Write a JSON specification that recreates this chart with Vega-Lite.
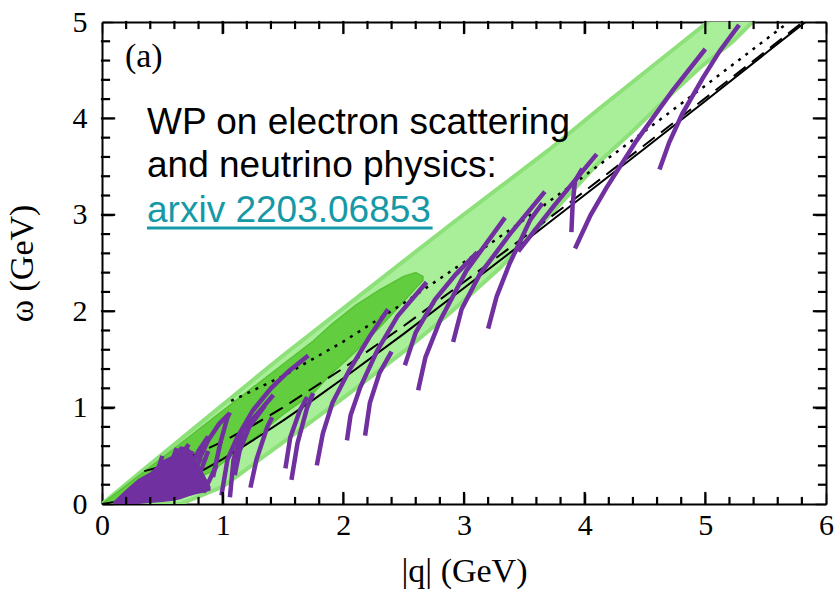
{
  "$schema": "https://vega.github.io/schema/vega-lite/v6.json",
  "width": 724,
  "height": 482,
  "autosize": {"type": "none"},
  "padding": {"left": 102, "top": 22, "right": 11, "bottom": 95},
  "background": "white",
  "config": {"view": {"stroke": null}, "axis": {"grid": false, "zindex": 1}},
  "datasets": {
    "light": [
      {"q": 0, "hi": 0, "lo": 0},
      {"q": 0.3, "hi": 0.31, "lo": 0},
      {"q": 0.65, "hi": 0.67, "lo": 0},
      {"q": 1.0, "hi": 1.03, "lo": 0.18},
      {"q": 1.5, "hi": 1.54, "lo": 0.64},
      {"q": 2.0, "hi": 2.03, "lo": 1.1},
      {"q": 2.5, "hi": 2.52, "lo": 1.58},
      {"q": 2.9, "hi": 2.91, "lo": 2.0},
      {"q": 3.3, "hi": 3.29, "lo": 2.45},
      {"q": 3.7, "hi": 3.67, "lo": 2.98},
      {"q": 4.13, "hi": 4.11, "lo": 3.56},
      {"q": 4.4, "hi": 4.38, "lo": 3.87},
      {"q": 4.68, "hi": 4.66, "lo": 4.21},
      {"q": 4.95, "hi": 4.93, "lo": 4.52},
      {"q": 5.23, "hi": 5.21, "lo": 4.8},
      {"q": 5.39, "hi": 5.37, "lo": 5.0},
      {"q": 5.6, "hi": 5.58, "lo": 5.2}
    ],
    "dark": [
      {"q": 0, "hi": 0, "lo": 0},
      {"q": 0.5, "hi": 0.48, "lo": 0.11},
      {"q": 0.9, "hi": 0.87, "lo": 0.33},
      {"q": 1.2, "hi": 1.16, "lo": 0.62},
      {"q": 1.5, "hi": 1.45, "lo": 0.93},
      {"q": 1.75, "hi": 1.69, "lo": 1.15},
      {"q": 1.9, "hi": 1.86, "lo": 1.35},
      {"q": 2.1, "hi": 2.06, "lo": 1.58},
      {"q": 2.3, "hi": 2.22, "lo": 1.83},
      {"q": 2.5, "hi": 2.36, "lo": 2.1},
      {"q": 2.6, "hi": 2.4, "lo": 2.24},
      {"q": 2.66, "hi": 2.36, "lo": 2.32}
    ],
    "blob": [
      {"q": 0.09, "hi": 0.02, "lo": 0},
      {"q": 0.2, "hi": 0.15, "lo": 0},
      {"q": 0.3, "hi": 0.26, "lo": 0},
      {"q": 0.4, "hi": 0.33, "lo": 0.01},
      {"q": 0.5, "hi": 0.45, "lo": 0.02},
      {"q": 0.58, "hi": 0.5, "lo": 0.03},
      {"q": 0.65, "hi": 0.6, "lo": 0.05},
      {"q": 0.72, "hi": 0.58, "lo": 0.08},
      {"q": 0.78, "hi": 0.46, "lo": 0.1},
      {"q": 0.85, "hi": 0.3, "lo": 0.12},
      {"q": 0.9, "hi": 0.18, "lo": 0.14}
    ],
    "purple": [
      {"id": 1, "i": 0, "q": 0.92, "w": 0.28}, {"id": 1, "i": 1, "q": 0.98, "w": 0.63}, {"id": 1, "i": 2, "q": 1.04, "w": 0.9}, {"id": 1, "i": 3, "q": 1.06, "w": 0.95},
      {"id": 2, "i": 0, "q": 0.99, "w": 0.09}, {"id": 2, "i": 1, "q": 1.04, "w": 0.46}, {"id": 2, "i": 2, "q": 1.12, "w": 0.69}, {"id": 2, "i": 3, "q": 1.25, "w": 0.97}, {"id": 2, "i": 4, "q": 1.4, "w": 1.2}, {"id": 2, "i": 5, "q": 1.55, "w": 1.38}, {"id": 2, "i": 6, "q": 1.71, "w": 1.54},
      {"id": 3, "i": 0, "q": 1.06, "w": 0.07}, {"id": 3, "i": 1, "q": 1.09, "w": 0.46}, {"id": 3, "i": 2, "q": 1.17, "w": 0.77}, {"id": 3, "i": 3, "q": 1.29, "w": 0.94}, {"id": 3, "i": 4, "q": 1.42, "w": 1.13},
      {"id": 4, "i": 0, "q": 1.23, "w": 0.17}, {"id": 4, "i": 1, "q": 1.28, "w": 0.46}, {"id": 4, "i": 2, "q": 1.37, "w": 0.8}, {"id": 4, "i": 3, "q": 1.41, "w": 0.9},
      {"id": 5, "i": 0, "q": 1.52, "w": 0.37}, {"id": 5, "i": 1, "q": 1.56, "w": 0.69}, {"id": 5, "i": 2, "q": 1.64, "w": 0.97}, {"id": 5, "i": 3, "q": 1.7, "w": 1.11},
      {"id": 6, "i": 0, "q": 1.57, "w": 0.25}, {"id": 6, "i": 1, "q": 1.62, "w": 0.63}, {"id": 6, "i": 2, "q": 1.7, "w": 1.0}, {"id": 6, "i": 3, "q": 1.75, "w": 1.15},
      {"id": 7, "i": 0, "q": 1.78, "w": 0.4}, {"id": 7, "i": 1, "q": 1.83, "w": 0.73}, {"id": 7, "i": 2, "q": 1.91, "w": 1.05}, {"id": 7, "i": 3, "q": 2.05, "w": 1.39}, {"id": 7, "i": 4, "q": 2.22, "w": 1.74}, {"id": 7, "i": 5, "q": 2.37, "w": 2.02},
      {"id": 8, "i": 0, "q": 2.03, "w": 0.66}, {"id": 8, "i": 1, "q": 2.06, "w": 0.92}, {"id": 8, "i": 2, "q": 2.14, "w": 1.21}, {"id": 8, "i": 3, "q": 2.28, "w": 1.59}, {"id": 8, "i": 4, "q": 2.45, "w": 1.95}, {"id": 8, "i": 5, "q": 2.69, "w": 2.3},
      {"id": 9, "i": 0, "q": 2.18, "w": 0.71}, {"id": 9, "i": 1, "q": 2.22, "w": 1.05}, {"id": 9, "i": 2, "q": 2.3, "w": 1.36}, {"id": 9, "i": 3, "q": 2.4, "w": 1.58},
      {"id": 10, "i": 0, "q": 2.51, "w": 1.44}, {"id": 10, "i": 1, "q": 2.6, "w": 1.78}, {"id": 10, "i": 2, "q": 2.76, "w": 2.12}, {"id": 10, "i": 3, "q": 2.93, "w": 2.38}, {"id": 10, "i": 4, "q": 3.11, "w": 2.61},
      {"id": 11, "i": 0, "q": 2.62, "w": 1.18}, {"id": 11, "i": 1, "q": 2.68, "w": 1.52}, {"id": 11, "i": 2, "q": 2.8, "w": 1.9}, {"id": 11, "i": 3, "q": 3.02, "w": 2.42}, {"id": 11, "i": 4, "q": 3.34, "w": 2.97},
      {"id": 12, "i": 0, "q": 2.91, "w": 1.68}, {"id": 12, "i": 1, "q": 2.98, "w": 2.02}, {"id": 12, "i": 2, "q": 3.13, "w": 2.38}, {"id": 12, "i": 3, "q": 3.38, "w": 2.8}, {"id": 12, "i": 4, "q": 3.67, "w": 3.24},
      {"id": 13, "i": 0, "q": 3.2, "w": 1.82}, {"id": 13, "i": 1, "q": 3.27, "w": 2.15}, {"id": 13, "i": 2, "q": 3.38, "w": 2.5}, {"id": 13, "i": 3, "q": 3.55, "w": 2.95}, {"id": 13, "i": 4, "q": 3.65, "w": 3.12},
      {"id": 14, "i": 0, "q": 3.45, "w": 2.62}, {"id": 14, "i": 1, "q": 3.75, "w": 3.1}, {"id": 14, "i": 2, "q": 4.1, "w": 3.63},
      {"id": 15, "i": 0, "q": 3.89, "w": 2.82}, {"id": 15, "i": 1, "q": 3.9, "w": 3.1}, {"id": 15, "i": 2, "q": 3.92, "w": 3.35}, {"id": 15, "i": 3, "q": 3.98, "w": 3.48},
      {"id": 16, "i": 0, "q": 3.92, "w": 2.65}, {"id": 16, "i": 1, "q": 4.05, "w": 3.0}, {"id": 16, "i": 2, "q": 4.18, "w": 3.28}, {"id": 16, "i": 3, "q": 4.43, "w": 3.77}, {"id": 16, "i": 4, "q": 4.73, "w": 4.29}, {"id": 16, "i": 5, "q": 5.0, "w": 4.72},
      {"id": 17, "i": 0, "q": 4.62, "w": 3.47}, {"id": 17, "i": 1, "q": 4.7, "w": 3.75}, {"id": 17, "i": 2, "q": 4.81, "w": 4.05}, {"id": 17, "i": 3, "q": 4.98, "w": 4.42}, {"id": 17, "i": 4, "q": 5.12, "w": 4.7}, {"id": 17, "i": 5, "q": 5.28, "w": 4.97},
      {"id": 18, "i": 0, "q": 0.8, "w": 0.45}, {"id": 18, "i": 1, "q": 0.88, "w": 0.66}, {"id": 18, "i": 2, "q": 0.97, "w": 0.83}, {"id": 18, "i": 3, "q": 1.05, "w": 0.93},
      {"id": 19, "i": 0, "q": 0.72, "w": 0.35}, {"id": 19, "i": 1, "q": 0.8, "w": 0.55}, {"id": 19, "i": 2, "q": 0.88, "w": 0.7},
      {"id": 20, "i": 0, "q": 1.1, "w": 0.3}, {"id": 20, "i": 1, "q": 1.14, "w": 0.55}, {"id": 20, "i": 2, "q": 1.22, "w": 0.8}, {"id": 20, "i": 3, "q": 1.35, "w": 1.02},
      {"id": 21, "i": 0, "q": 0.55, "w": 0.35}, {"id": 21, "i": 1, "q": 0.62, "w": 0.58},
      {"id": 22, "i": 0, "q": 0.66, "w": 0.3}, {"id": 22, "i": 1, "q": 0.75, "w": 0.55},
      {"id": 23, "i": 0, "q": 0.72, "w": 0.22}, {"id": 23, "i": 1, "q": 0.82, "w": 0.48},
      {"id": 24, "i": 0, "q": 0.8, "w": 0.28}, {"id": 24, "i": 1, "q": 0.88, "w": 0.55},
      {"id": 25, "i": 0, "q": 0.62, "w": 0.45}, {"id": 25, "i": 1, "q": 0.72, "w": 0.62},
      {"id": 26, "i": 0, "q": 0.45, "w": 0.3}, {"id": 26, "i": 1, "q": 0.5, "w": 0.5},
      {"id": 27, "i": 0, "q": 0.84, "w": 0.12}, {"id": 27, "i": 1, "q": 0.95, "w": 0.4}
    ],
    "solid": [
      {"q": 0, "w": 0}, {"q": 0.25, "w": 0.05}, {"q": 0.5, "w": 0.15}, {"q": 0.75, "w": 0.29}, {"q": 1.0, "w": 0.465}, {"q": 1.25, "w": 0.66}, {"q": 1.5, "w": 0.865}, {"q": 1.75, "w": 1.08}, {"q": 2.0, "w": 1.305}, {"q": 2.5, "w": 1.765}, {"q": 3.0, "w": 2.24}, {"q": 3.5, "w": 2.72}, {"q": 4.0, "w": 3.205}, {"q": 4.5, "w": 3.69}, {"q": 5.0, "w": 4.18}, {"q": 5.5, "w": 4.675}, {"q": 5.84, "w": 5.01}
    ],
    "dashed": [
      {"q": 0.35, "w": 0.341}, {"q": 0.5, "w": 0.39}, {"q": 0.75, "w": 0.502}, {"q": 1.0, "w": 0.647}, {"q": 1.25, "w": 0.815}, {"q": 1.5, "w": 1.001}, {"q": 2.0, "w": 1.409}, {"q": 2.5, "w": 1.847}, {"q": 3.0, "w": 2.303}, {"q": 3.5, "w": 2.771}, {"q": 4.0, "w": 3.245}, {"q": 4.5, "w": 3.726}, {"q": 5.0, "w": 4.21}, {"q": 5.5, "w": 4.696}, {"q": 5.85, "w": 5.04}
    ],
    "dotted": [
      {"q": 1.07, "w": 1.069}, {"q": 1.5, "w": 1.327}, {"q": 2.0, "w": 1.685}, {"q": 2.5, "w": 2.083}, {"q": 3.0, "w": 2.508}, {"q": 3.5, "w": 2.951}, {"q": 4.0, "w": 3.406}, {"q": 4.5, "w": 3.87}, {"q": 5.0, "w": 4.341}, {"q": 5.5, "w": 4.817}, {"q": 5.75, "w": 5.056}
    ],
    "tk": [
      {"k": 1, "q": 0.2, "w": 0}, {"k": 1, "q": 0.2, "w": 0.062}, {"k": 2, "q": 0.4, "w": 0}, {"k": 2, "q": 0.4, "w": 0.062}, {"k": 3, "q": 0.6, "w": 0}, {"k": 3, "q": 0.6, "w": 0.062}, {"k": 4, "q": 0.8, "w": 0}, {"k": 4, "q": 0.8, "w": 0.062}, {"k": 5, "q": 1, "w": 0}, {"k": 5, "q": 1, "w": 0.114},
      {"k": 6, "q": 1.2, "w": 0}, {"k": 6, "q": 1.2, "w": 0.062}, {"k": 7, "q": 1.4, "w": 0}, {"k": 7, "q": 1.4, "w": 0.062}, {"k": 8, "q": 1.6, "w": 0}, {"k": 8, "q": 1.6, "w": 0.062}, {"k": 9, "q": 1.8, "w": 0}, {"k": 9, "q": 1.8, "w": 0.062}, {"k": 10, "q": 2, "w": 0}, {"k": 10, "q": 2, "w": 0.114},
      {"k": 11, "q": 2.2, "w": 0}, {"k": 11, "q": 2.2, "w": 0.062}, {"k": 12, "q": 2.4, "w": 0}, {"k": 12, "q": 2.4, "w": 0.062}, {"k": 13, "q": 2.6, "w": 0}, {"k": 13, "q": 2.6, "w": 0.062}, {"k": 14, "q": 2.8, "w": 0}, {"k": 14, "q": 2.8, "w": 0.062}, {"k": 15, "q": 3, "w": 0}, {"k": 15, "q": 3, "w": 0.114},
      {"k": 16, "q": 3.2, "w": 0}, {"k": 16, "q": 3.2, "w": 0.062}, {"k": 17, "q": 3.4, "w": 0}, {"k": 17, "q": 3.4, "w": 0.062}, {"k": 18, "q": 3.6, "w": 0}, {"k": 18, "q": 3.6, "w": 0.062}, {"k": 19, "q": 3.8, "w": 0}, {"k": 19, "q": 3.8, "w": 0.062}, {"k": 20, "q": 4, "w": 0}, {"k": 20, "q": 4, "w": 0.114},
      {"k": 21, "q": 4.2, "w": 0}, {"k": 21, "q": 4.2, "w": 0.062}, {"k": 22, "q": 4.4, "w": 0}, {"k": 22, "q": 4.4, "w": 0.062}, {"k": 23, "q": 4.6, "w": 0}, {"k": 23, "q": 4.6, "w": 0.062}, {"k": 24, "q": 4.8, "w": 0}, {"k": 24, "q": 4.8, "w": 0.062}, {"k": 25, "q": 5, "w": 0}, {"k": 25, "q": 5, "w": 0.114},
      {"k": 26, "q": 5.2, "w": 0}, {"k": 26, "q": 5.2, "w": 0.062}, {"k": 27, "q": 5.4, "w": 0}, {"k": 27, "q": 5.4, "w": 0.062}, {"k": 28, "q": 5.6, "w": 0}, {"k": 28, "q": 5.6, "w": 0.062}, {"k": 29, "q": 5.8, "w": 0}, {"k": 29, "q": 5.8, "w": 0.062},
      {"k": 31, "q": 0.2, "w": 5}, {"k": 31, "q": 0.2, "w": 4.938}, {"k": 32, "q": 0.4, "w": 5}, {"k": 32, "q": 0.4, "w": 4.938}, {"k": 33, "q": 0.6, "w": 5}, {"k": 33, "q": 0.6, "w": 4.938}, {"k": 34, "q": 0.8, "w": 5}, {"k": 34, "q": 0.8, "w": 4.938}, {"k": 35, "q": 1, "w": 5}, {"k": 35, "q": 1, "w": 4.886},
      {"k": 36, "q": 1.2, "w": 5}, {"k": 36, "q": 1.2, "w": 4.938}, {"k": 37, "q": 1.4, "w": 5}, {"k": 37, "q": 1.4, "w": 4.938}, {"k": 38, "q": 1.6, "w": 5}, {"k": 38, "q": 1.6, "w": 4.938}, {"k": 39, "q": 1.8, "w": 5}, {"k": 39, "q": 1.8, "w": 4.938}, {"k": 40, "q": 2, "w": 5}, {"k": 40, "q": 2, "w": 4.886},
      {"k": 41, "q": 2.2, "w": 5}, {"k": 41, "q": 2.2, "w": 4.938}, {"k": 42, "q": 2.4, "w": 5}, {"k": 42, "q": 2.4, "w": 4.938}, {"k": 43, "q": 2.6, "w": 5}, {"k": 43, "q": 2.6, "w": 4.938}, {"k": 44, "q": 2.8, "w": 5}, {"k": 44, "q": 2.8, "w": 4.938}, {"k": 45, "q": 3, "w": 5}, {"k": 45, "q": 3, "w": 4.886},
      {"k": 46, "q": 3.2, "w": 5}, {"k": 46, "q": 3.2, "w": 4.938}, {"k": 47, "q": 3.4, "w": 5}, {"k": 47, "q": 3.4, "w": 4.938}, {"k": 48, "q": 3.6, "w": 5}, {"k": 48, "q": 3.6, "w": 4.938}, {"k": 49, "q": 3.8, "w": 5}, {"k": 49, "q": 3.8, "w": 4.938}, {"k": 50, "q": 4, "w": 5}, {"k": 50, "q": 4, "w": 4.886},
      {"k": 51, "q": 4.2, "w": 5}, {"k": 51, "q": 4.2, "w": 4.938}, {"k": 52, "q": 4.4, "w": 5}, {"k": 52, "q": 4.4, "w": 4.938}, {"k": 53, "q": 4.6, "w": 5}, {"k": 53, "q": 4.6, "w": 4.938}, {"k": 54, "q": 4.8, "w": 5}, {"k": 54, "q": 4.8, "w": 4.938}, {"k": 55, "q": 5, "w": 5}, {"k": 55, "q": 5, "w": 4.886},
      {"k": 56, "q": 5.2, "w": 5}, {"k": 56, "q": 5.2, "w": 4.938}, {"k": 57, "q": 5.4, "w": 5}, {"k": 57, "q": 5.4, "w": 4.938}, {"k": 58, "q": 5.6, "w": 5}, {"k": 58, "q": 5.6, "w": 4.938}, {"k": 59, "q": 5.8, "w": 5}, {"k": 59, "q": 5.8, "w": 4.938},
      {"k": 61, "q": 0, "w": 0.2}, {"k": 61, "q": 0.058, "w": 0.2}, {"k": 62, "q": 0, "w": 0.4}, {"k": 62, "q": 0.058, "w": 0.4}, {"k": 63, "q": 0, "w": 0.6}, {"k": 63, "q": 0.058, "w": 0.6}, {"k": 64, "q": 0, "w": 0.8}, {"k": 64, "q": 0.058, "w": 0.8}, {"k": 65, "q": 0, "w": 1}, {"k": 65, "q": 0.1, "w": 1},
      {"k": 66, "q": 0, "w": 1.2}, {"k": 66, "q": 0.058, "w": 1.2}, {"k": 67, "q": 0, "w": 1.4}, {"k": 67, "q": 0.058, "w": 1.4}, {"k": 68, "q": 0, "w": 1.6}, {"k": 68, "q": 0.058, "w": 1.6}, {"k": 69, "q": 0, "w": 1.8}, {"k": 69, "q": 0.058, "w": 1.8}, {"k": 70, "q": 0, "w": 2}, {"k": 70, "q": 0.1, "w": 2},
      {"k": 71, "q": 0, "w": 2.2}, {"k": 71, "q": 0.058, "w": 2.2}, {"k": 72, "q": 0, "w": 2.4}, {"k": 72, "q": 0.058, "w": 2.4}, {"k": 73, "q": 0, "w": 2.6}, {"k": 73, "q": 0.058, "w": 2.6}, {"k": 74, "q": 0, "w": 2.8}, {"k": 74, "q": 0.058, "w": 2.8}, {"k": 75, "q": 0, "w": 3}, {"k": 75, "q": 0.1, "w": 3},
      {"k": 76, "q": 0, "w": 3.2}, {"k": 76, "q": 0.058, "w": 3.2}, {"k": 77, "q": 0, "w": 3.4}, {"k": 77, "q": 0.058, "w": 3.4}, {"k": 78, "q": 0, "w": 3.6}, {"k": 78, "q": 0.058, "w": 3.6}, {"k": 79, "q": 0, "w": 3.8}, {"k": 79, "q": 0.058, "w": 3.8}, {"k": 80, "q": 0, "w": 4}, {"k": 80, "q": 0.1, "w": 4},
      {"k": 81, "q": 0, "w": 4.2}, {"k": 81, "q": 0.058, "w": 4.2}, {"k": 82, "q": 0, "w": 4.4}, {"k": 82, "q": 0.058, "w": 4.4}, {"k": 83, "q": 0, "w": 4.6}, {"k": 83, "q": 0.058, "w": 4.6}, {"k": 84, "q": 0, "w": 4.8}, {"k": 84, "q": 0.058, "w": 4.8},
      {"k": 91, "q": 6, "w": 0.2}, {"k": 91, "q": 5.942, "w": 0.2}, {"k": 92, "q": 6, "w": 0.4}, {"k": 92, "q": 5.942, "w": 0.4}, {"k": 93, "q": 6, "w": 0.6}, {"k": 93, "q": 5.942, "w": 0.6}, {"k": 94, "q": 6, "w": 0.8}, {"k": 94, "q": 5.942, "w": 0.8}, {"k": 95, "q": 6, "w": 1}, {"k": 95, "q": 5.9, "w": 1},
      {"k": 96, "q": 6, "w": 1.2}, {"k": 96, "q": 5.942, "w": 1.2}, {"k": 97, "q": 6, "w": 1.4}, {"k": 97, "q": 5.942, "w": 1.4}, {"k": 98, "q": 6, "w": 1.6}, {"k": 98, "q": 5.942, "w": 1.6}, {"k": 99, "q": 6, "w": 1.8}, {"k": 99, "q": 5.942, "w": 1.8}, {"k": 100, "q": 6, "w": 2}, {"k": 100, "q": 5.9, "w": 2},
      {"k": 101, "q": 6, "w": 2.2}, {"k": 101, "q": 5.942, "w": 2.2}, {"k": 102, "q": 6, "w": 2.4}, {"k": 102, "q": 5.942, "w": 2.4}, {"k": 103, "q": 6, "w": 2.6}, {"k": 103, "q": 5.942, "w": 2.6}, {"k": 104, "q": 6, "w": 2.8}, {"k": 104, "q": 5.942, "w": 2.8}, {"k": 105, "q": 6, "w": 3}, {"k": 105, "q": 5.9, "w": 3},
      {"k": 106, "q": 6, "w": 3.2}, {"k": 106, "q": 5.942, "w": 3.2}, {"k": 107, "q": 6, "w": 3.4}, {"k": 107, "q": 5.942, "w": 3.4}, {"k": 108, "q": 6, "w": 3.6}, {"k": 108, "q": 5.942, "w": 3.6}, {"k": 109, "q": 6, "w": 3.8}, {"k": 109, "q": 5.942, "w": 3.8}, {"k": 110, "q": 6, "w": 4}, {"k": 110, "q": 5.9, "w": 4},
      {"k": 111, "q": 6, "w": 4.2}, {"k": 111, "q": 5.942, "w": 4.2}, {"k": 112, "q": 6, "w": 4.4}, {"k": 112, "q": 5.942, "w": 4.4}, {"k": 113, "q": 6, "w": 4.6}, {"k": 113, "q": 5.942, "w": 4.6}, {"k": 114, "q": 6, "w": 4.8}, {"k": 114, "q": 5.942, "w": 4.8}
    ],
    "notes": [
      {"q": 0.373, "w": 3.837, "t": "WP on electron scattering", "c": "#000000"},
      {"q": 0.373, "w": 3.388, "t": "and neutrino physics:", "c": "#000000"},
      {"q": 0.373, "w": 2.922, "t": "arxiv 2203.06853", "c": "#1699a6"}
    ],
    "panel": [{"q": 0.19, "w": 4.53, "t": "(a)"}],
    "underline": [{"q": 0.373, "q2": 2.74, "w": 2.862}]
  },
  "layer": [
    {
      "data": {"name": "light"},
      "mark": {"type": "area", "fill": "#a9ee98", "stroke": "#8ee07a", "strokeWidth": 4, "clip": true},
      "encoding": {
        "x": {"field": "q", "type": "quantitative", "scale": {"domain": [0, 6], "nice": false, "zero": false},
          "axis": {
            "orient": "bottom",
            "values": [0, 1, 2, 3, 4, 5, 6],
            "format": "d",
            "tickSize": -11,
            "tickColor": "black", "tickWidth": 1.5,
            "domainColor": "black", "domainWidth": 2,
            "labelFont": "Liberation Serif", "labelFontSize": 30, "labelColor": "black",
            "labelPadding": 17, "labelFlush": false, "labelOverlap": false,
            "title": "|q| (GeV)", "titleFont": "Liberation Serif", "titleFontSize": 34, "titleFontWeight": "normal", "titleColor": "black", "titlePadding": 14,
            "grid": false
          }},
        "y": {"field": "hi", "type": "quantitative", "scale": {"domain": [0, 5], "nice": false, "zero": false},
          "axis": {
            "orient": "left",
            "values": [0, 1, 2, 3, 4, 5],
            "format": "d",
            "tickSize": -11,
            "tickColor": "black", "tickWidth": 1.5,
            "domainColor": "black", "domainWidth": 2,
            "labelFont": "Liberation Serif", "labelFontSize": 30, "labelColor": "black",
            "labelPadding": 26, "labelFlush": false, "labelOverlap": false,
            "title": "ω (GeV)", "titleFont": "Liberation Serif", "titleFontSize": 34, "titleFontWeight": "normal", "titleColor": "black", "titlePadding": 33,
            "grid": false
          }},
        "y2": {"field": "lo"}
      }
    },
    {
      "data": {"name": "dark"},
      "mark": {"type": "area", "fill": "#62cd3f", "stroke": "#58c236", "strokeWidth": 1.5, "clip": true},
      "encoding": {
        "x": {"field": "q", "type": "quantitative", "scale": {"domain": [0, 6], "nice": false, "zero": false},
          "axis": {
            "orient": "top", "values": [0, 1, 2, 3, 4, 5, 6],
            "labels": false, "title": null, "tickSize": -11,
            "tickColor": "black", "tickWidth": 1.5, "domainColor": "black", "domainWidth": 2, "grid": false
          }},
        "y": {"field": "hi", "type": "quantitative", "scale": {"domain": [0, 5], "nice": false, "zero": false},
          "axis": {
            "orient": "right", "values": [0, 1, 2, 3, 4, 5],
            "labels": false, "title": null, "tickSize": -11,
            "tickColor": "black", "tickWidth": 1.5, "domainColor": "black", "domainWidth": 2, "grid": false
          }},
        "y2": {"field": "lo"}
      }
    },
    {
      "data": {"name": "solid"},
      "mark": {"type": "line", "color": "black", "strokeWidth": 2, "clip": true},
      "encoding": {
        "x": {"field": "q", "type": "quantitative", "scale": {"domain": [0, 6], "nice": false, "zero": false}, "axis": null},
        "y": {"field": "w", "type": "quantitative", "scale": {"domain": [0, 5], "nice": false, "zero": false}, "axis": null}
      }
    },
    {
      "data": {"name": "dashed"},
      "mark": {"type": "line", "color": "black", "strokeWidth": 2, "strokeDash": [15, 8], "clip": true},
      "encoding": {
        "x": {"field": "q", "type": "quantitative", "scale": {"domain": [0, 6], "nice": false, "zero": false}, "axis": null},
        "y": {"field": "w", "type": "quantitative", "scale": {"domain": [0, 5], "nice": false, "zero": false}, "axis": null}
      }
    },
    {
      "data": {"name": "dotted"},
      "mark": {"type": "line", "color": "black", "strokeWidth": 2.5, "strokeDash": [3, 6], "clip": true},
      "encoding": {
        "x": {"field": "q", "type": "quantitative", "scale": {"domain": [0, 6], "nice": false, "zero": false}, "axis": null},
        "y": {"field": "w", "type": "quantitative", "scale": {"domain": [0, 5], "nice": false, "zero": false}, "axis": null}
      }
    },
    {
      "data": {"name": "blob"},
      "mark": {"type": "area", "fill": "#7030a0", "clip": true},
      "encoding": {
        "x": {"field": "q", "type": "quantitative", "scale": {"domain": [0, 6], "nice": false, "zero": false}, "axis": null},
        "y": {"field": "hi", "type": "quantitative", "scale": {"domain": [0, 5], "nice": false, "zero": false}, "axis": null},
        "y2": {"field": "lo"}
      }
    },
    {
      "data": {"name": "purple"},
      "mark": {"type": "line", "color": "#7030a0", "strokeWidth": 4.5, "clip": true},
      "encoding": {
        "x": {"field": "q", "type": "quantitative", "scale": {"domain": [0, 6], "nice": false, "zero": false}, "axis": null},
        "y": {"field": "w", "type": "quantitative", "scale": {"domain": [0, 5], "nice": false, "zero": false}, "axis": null},
        "detail": {"field": "id", "type": "nominal"},
        "order": {"field": "i", "type": "quantitative"}
      }
    },
    {
      "data": {"name": "panel"},
      "mark": {"type": "text", "align": "left", "baseline": "alphabetic", "font": "Liberation Serif", "fontSize": 34, "color": "black"},
      "encoding": {
        "x": {"field": "q", "type": "quantitative", "scale": {"domain": [0, 6], "nice": false, "zero": false}, "axis": null},
        "y": {"field": "w", "type": "quantitative", "scale": {"domain": [0, 5], "nice": false, "zero": false}, "axis": null},
        "text": {"field": "t", "type": "nominal"}
      }
    },
    {
      "data": {"name": "notes"},
      "mark": {"type": "text", "align": "left", "baseline": "alphabetic", "font": "Liberation Sans", "fontSize": 37},
      "encoding": {
        "x": {"field": "q", "type": "quantitative", "scale": {"domain": [0, 6], "nice": false, "zero": false}, "axis": null},
        "y": {"field": "w", "type": "quantitative", "scale": {"domain": [0, 5], "nice": false, "zero": false}, "axis": null},
        "text": {"field": "t", "type": "nominal"},
        "color": {"field": "c", "type": "nominal", "scale": null}
      }
    },
    {
      "data": {"name": "underline"},
      "mark": {"type": "rule", "color": "#1699a6", "strokeWidth": 3},
      "encoding": {
        "x": {"field": "q", "type": "quantitative", "scale": {"domain": [0, 6], "nice": false, "zero": false}, "axis": null},
        "x2": {"field": "q2"},
        "y": {"field": "w", "type": "quantitative", "scale": {"domain": [0, 5], "nice": false, "zero": false}, "axis": null}
      }
    },
    {
      "data": {"name": "tk"},
      "mark": {"type": "line", "color": "#000000", "strokeWidth": 2.2, "strokeCap": "square", "opacity": 1},
      "encoding": {
        "x": {"field": "q", "type": "quantitative", "scale": {"domain": [0, 6], "nice": false, "zero": false}, "axis": null},
        "y": {"field": "w", "type": "quantitative", "scale": {"domain": [0, 5], "nice": false, "zero": false}, "axis": null},
        "detail": {"field": "k", "type": "nominal"}
      }
    }
  ],
  "resolve": {"axis": {"x": "independent", "y": "independent"}}
}
